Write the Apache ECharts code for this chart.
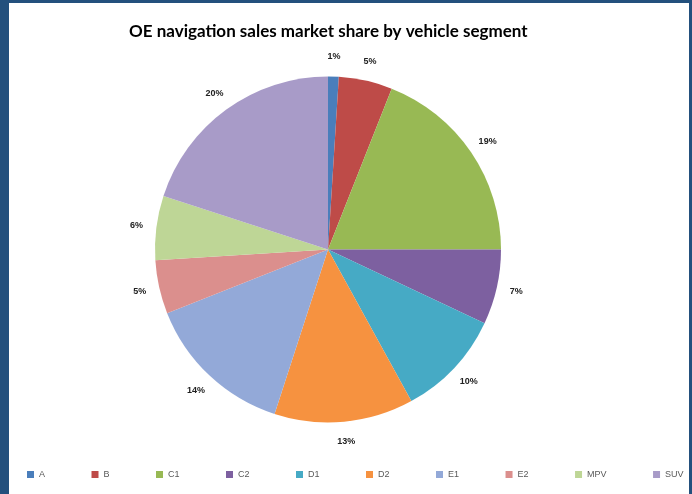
<!DOCTYPE html>
<html><head><meta charset="utf-8">
<script src="https://cdn.jsdelivr.net/npm/echarts@6/dist/echarts.min.js"></script>
<style>
html,body{margin:0;padding:0;width:692px;height:494px;overflow:hidden;background:#23507d;}
#c{position:absolute;left:9px;top:3px;width:680px;height:491px;background:#fff;}
</style></head><body>
<div id="c"></div>
<script>
const titleText = 'OE navigation sales market share by vehicle segment';
const segments = ['A','B','C1','C2','D1','D2','E1','E2','MPV','SUV'];
const shares = [1,5,19,7,10,13,14,5,6,20];
const colors = ['#4a7ebb','#be4b48','#98b954','#7d60a0','#46aac5','#f69240','#93a9d8','#db8f8d','#bed696','#a89bc8'];

const chart = echarts.init(document.getElementById('c'));
const data = segments.map((n,i)=>({name:n,value:shares[i],itemStyle:{color:colors[i]}}));
chart.setOption({
  animation:false,
  backgroundColor:'#fff',
  title:{text:titleText,left:115,top:15,textStyle:{fontFamily:'Lato',fontWeight:'bold',fontSize:17,color:'#000'}},
  legend:{data:segments,left:13,top:462,itemWidth:7,itemHeight:7,itemGap:46.5,icon:'rect',
    textStyle:{fontFamily:'Liberation Sans',fontSize:9,color:'#595959'}},
  series:[
    {type:'pie',center:[319,246.5],radius:[0,173],startAngle:90,clockwise:true,
     data:data,label:{show:false},labelLine:{show:false},silent:true,
     itemStyle:{borderWidth:0}},
    {type:'pie',center:[319,246.5],radius:[180,200],startAngle:90,clockwise:true,
     data:segments.map((n,i)=>({name:n,value:shares[i],itemStyle:{color:'rgba(0,0,0,0)'}})),
     silent:true,legendHoverLink:false,
     label:{show:true,position:'inside',formatter:'{c}%',fontFamily:'Liberation Sans',fontWeight:'bold',fontSize:9,color:'#222'},
     labelLine:{show:false}}
  ]
});
</script></body></html>
